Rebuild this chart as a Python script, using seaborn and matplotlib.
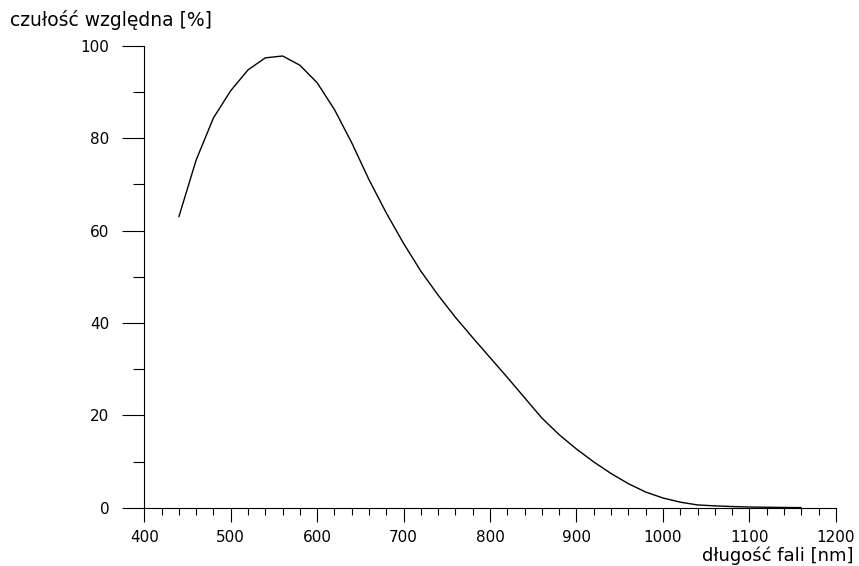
import numpy as np
import pandas as pd
import seaborn as sns
import matplotlib.pyplot as plt
from matplotlib.ticker import MultipleLocator

# dane
dlugosc_fali = [440, 460, 480, 500, 520, 540, 560, 580, 600, 620, 640, 660, 680,
                700, 720, 740, 760, 780, 800, 820, 840, 860, 880, 900, 920, 940,
                960, 980, 1000, 1020, 1040, 1060, 1080, 1100, 1120, 1140, 1160]
czulosc = [63.0, 75.3, 84.4, 90.3, 94.8, 97.4, 97.8, 95.8, 92.0, 86.2, 79.0, 71.0, 63.8,
           57.2, 51.2, 46.0, 41.2, 36.8, 32.5, 28.2, 23.8, 19.4, 15.8, 12.7, 9.9, 7.4,
           5.2, 3.4, 2.1, 1.2, 0.6, 0.4, 0.25, 0.15, 0.1, 0.05, 0.02]

df = pd.DataFrame({"nm": dlugosc_fali, "czulosc": czulosc})

sns.set_style("ticks")
plt.rcParams['font.family'] = ['DejaVu Sans']
plt.rcParams['text.color'] = 'black'
plt.rcParams['xtick.color'] = 'black'
plt.rcParams['ytick.color'] = 'black'

fig = plt.figure(figsize=(8.59, 5.66), dpi=100)
ax = fig.add_axes([0.168, 0.103, 0.805, 0.816])

sns.lineplot(data=df, x="nm", y="czulosc", ax=ax, color="black", linewidth=1.0)

ax.set_xlim(400, 1200)
ax.set_ylim(0, 100)
ax.xaxis.set_major_locator(MultipleLocator(100))
ax.xaxis.set_minor_locator(MultipleLocator(20))
ax.yaxis.set_major_locator(MultipleLocator(20))
ax.yaxis.set_minor_locator(MultipleLocator(10))

ax.tick_params(axis="y", which="major", length=16, width=0.8, pad=9, labelsize=11)
ax.tick_params(axis="y", which="minor", length=8, width=0.8)
ax.tick_params(axis="x", which="major", length=10, width=0.8, pad=6, labelsize=11)
ax.tick_params(axis="x", which="minor", length=5, width=0.8)

sns.despine(ax=ax)
for s in ["left", "bottom"]:
    ax.spines[s].set_linewidth(0.8)
    ax.spines[s].set_color("black")

ax.set_xlabel("")
ax.set_ylabel("")
fig.text(10 / 859, 1 - 26 / 566, "czułość względna [%]", fontsize=13.5, ha="left", va="baseline")
fig.text(853 / 859, 1 - 561 / 566, "długość fali [nm]", fontsize=13, ha="right", va="baseline")

fig.savefig("out.png", dpi=100)
